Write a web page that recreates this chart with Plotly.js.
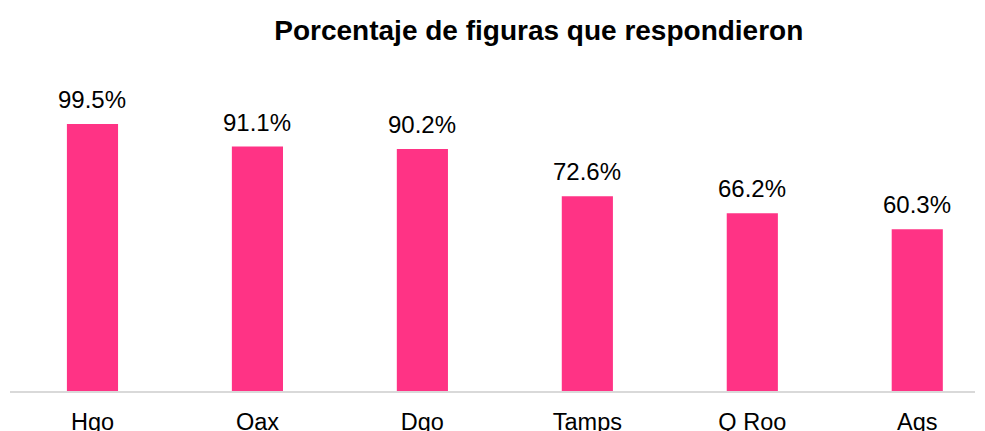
<!DOCTYPE html>
<html>
<head>
<meta charset="utf-8">
<script src="https://cdn.plot.ly/plotly-3.0.1.min.js"></script>
<style>html,body{margin:0;padding:0;background:#fff;}#chart{width:985px;height:431px;}</style>
</head>
<body>
<div id="chart"></div>
<script>
const categories = ["Hgo", "Oax", "Dgo", "Tamps", "Q Roo", "Ags"];
const values = [99.5, 91.1, 90.2, 72.6, 66.2, 60.3];
const labels = ["99.5%", "91.1%", "90.2%", "72.6%", "66.2%", "60.3%"];

const trace = {
  type: "bar",
  x: categories,
  y: values,
  width: 0.31,
  marker: {color: "#FF3385"},
  hoverinfo: "skip"
};

const annotations = categories.map((c, i) => ({
  x: c, y: values[i], xref: "x", yref: "y",
  text: labels[i], showarrow: false,
  yanchor: "bottom", yshift: 9,
  font: {family: "Liberation Sans, Arial, sans-serif", size: 24, color: "#000"}
}));

const layout = {
  width: 985, height: 431,
  margin: {l: 10, r: 10, t: 69, b: 40},
  paper_bgcolor: "#fff", plot_bgcolor: "#fff",
  title: {
    text: "<b>Porcentaje de figuras que respondieron</b>",
    font: {family: "Liberation Sans, Arial, sans-serif", size: 28, color: "#000"},
    xref: "container", x: 0.547, xanchor: "center",
    yref: "container", y: 0.93, yanchor: "middle"
  },
  xaxis: {
    type: "category",
    range: [-0.5, 5.35],
    showline: true, linecolor: "#D9D9D9", linewidth: 1.5,
    ticks: "", showgrid: false, zeroline: false,
    ticklabelstandoff: 9,
    tickfont: {family: "Liberation Sans, Arial, sans-serif", size: 23.5, color: "#000"}
  },
  yaxis: {
    range: [0, 120],
    visible: false, showgrid: false, zeroline: false
  },
  annotations: annotations,
  showlegend: false
};

Plotly.newPlot("chart", [trace], layout, {displayModeBar: false, staticPlot: true});
</script>
</body>
</html>
